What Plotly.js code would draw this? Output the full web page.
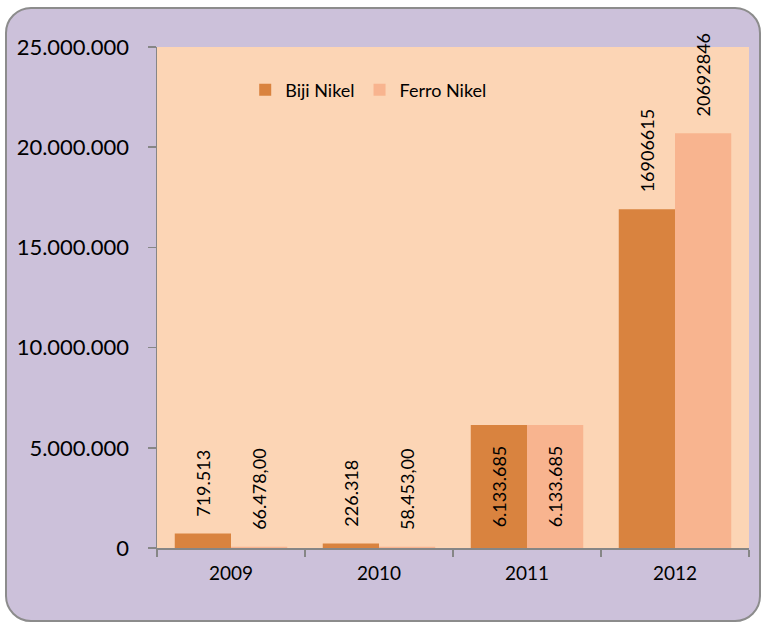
<!DOCTYPE html>
<html>
<head>
<meta charset="utf-8">
<script src="https://cdn.plot.ly/plotly-3.0.1.min.js"></script>
<style>
  html, body { margin: 0; padding: 0; background: #ffffff; overflow: hidden; }
  #frame {
    position: absolute; left: 5px; top: 7px; width: 756px; height: 615px;
    box-sizing: border-box; border: 2px solid #8c8c8c; border-radius: 26px;
    overflow: hidden; background: #CCC1DA;
  }
  #chart { width: 752px; height: 611px; }
</style>
</head>
<body>
<div id="frame"><div id="chart"></div></div>
<script>
const years = ["2009", "2010", "2011", "2012"];
const bijiNikel = [719513, 226318, 6133685, 16906615];
const ferroNikel = [66478, 58453, 6133685, 20692846];
const bijiLabels = ["719.513", "226.318", "6.133.685", "16906615"];
const ferroLabels = ["66.478,00", "58.453,00", "6.133.685", "20692846"];
const labelPositions = ["outside", "outside", "inside", "outside"];
const yTickVals = [0, 5000000, 10000000, 15000000, 20000000, 25000000];
const yTickText = ["0", "5.000.000", "10.000.000", "15.000.000", "20.000.000", "25.000.000"];

const FONT = "Lato, 'Open Sans', sans-serif";
const pad = "\u00a0\u00a0\u00a0";
function padLabels(labels) {
  return labels.map((t, i) => labelPositions[i] === "outside" ? pad + t : t);
}

const common = {
  type: "bar",
  x: years,
  textposition: labelPositions,
  textangle: -90,
  insidetextanchor: "middle",
  cliponaxis: false,
  constraintext: "none",
  textfont: { family: FONT, size: 18, color: "#000000" },
  insidetextfont: { family: FONT, size: 18, color: "#000000" },
  outsidetextfont: { family: FONT, size: 18, color: "#000000" },
  hoverinfo: "skip"
};

const traces = [
  Object.assign({}, common, {
    name: "Biji Nikel",
    y: bijiNikel,
    text: padLabels(bijiLabels),
    marker: { color: "#D9833F", line: { width: 0 } }
  }),
  Object.assign({}, common, {
    name: "Ferro Nikel",
    y: ferroNikel,
    text: padLabels(ferroLabels),
    marker: { color: "#F8B48F", line: { width: 0 } }
  })
];

const layout = {
  width: 752,
  height: 611,
  margin: { l: 150, r: 10, t: 38, b: 72 },
  paper_bgcolor: "rgba(0,0,0,0)",
  plot_bgcolor: "#FCD5B5",
  barmode: "group",
  bargap: 0.24,
  bargroupgap: 0,
  separators: ",.",
  font: { family: FONT, color: "#000000" },
  showlegend: true,
  legend: {
    orientation: "h",
    x: 0.149, y: 0.914, xanchor: "left", yanchor: "middle",
    bgcolor: "rgba(0,0,0,0)",
    font: { family: FONT, size: 18, color: "#000000" },
    itemclick: false
  },
  xaxis: {
    type: "category",
    showgrid: false,
    showline: true, linecolor: "#868686", linewidth: 1.5,
    ticks: "outside", tickson: "boundaries", ticklen: 7, tickcolor: "#868686", tickwidth: 1.5,
    tickfont: { family: FONT, size: 19, color: "#000000" },
    ticklabelstandoff: 8,
    fixedrange: true
  },
  yaxis: {
    range: [0, 25000000],
    tickvals: yTickVals,
    ticktext: yTickText,
    showgrid: false, zeroline: false,
    showline: true, linecolor: "#868686", linewidth: 1.5,
    ticks: "outside", ticklen: 8, tickcolor: "#868686", tickwidth: 1.5,
    tickfont: { family: FONT, size: 22, color: "#000000" },
    ticklabelstandoff: 14,
    fixedrange: true
  }
};

Plotly.newPlot("chart", traces, layout, { displayModeBar: false, staticPlot: true });
</script>
</body>
</html>
